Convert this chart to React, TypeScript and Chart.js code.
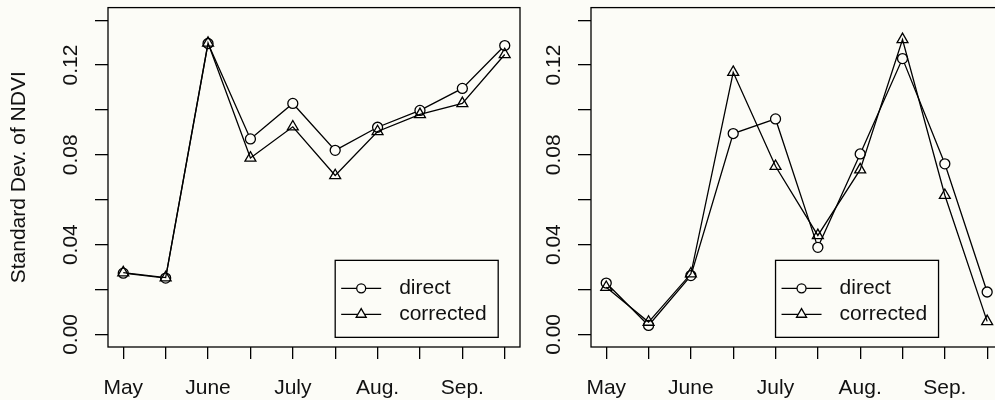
import React, { useEffect, useRef } from 'react';
import { Chart, registerables } from 'chart.js';

Chart.register(...registerables);

// ---- data ----
const xIndex = [1, 2, 3, 4, 5, 6, 7, 8, 9, 10];
const monthLabels = ['May', '', 'June', '', 'July', '', 'Aug.', '', 'Sep.', ''];
const yTicks = [0, 0.02, 0.04, 0.06, 0.08, 0.1, 0.12, 0.14];
const yTickLabels = ['0.00', '', '0.04', '', '0.08', '', '0.12', ''];
const seriesNames = ['direct', 'corrected'];
const yTitle = 'Standard Dev. of NDVI';

const leftDirect = [0.0273, 0.0251, 0.1296, 0.0871, 0.1029, 0.082, 0.0923, 0.0998, 0.1096, 0.1287];
const leftCorrected = [0.0275, 0.0253, 0.1298, 0.0786, 0.0925, 0.0708, 0.0904, 0.098, 0.1029, 0.1247];
const rightDirect = [0.0229, 0.004, 0.0262, 0.0895, 0.096, 0.0388, 0.0804, 0.1229, 0.076, 0.0189];
const rightCorrected = [0.021, 0.0055, 0.027, 0.1168, 0.0749, 0.0441, 0.0734, 0.1314, 0.062, 0.0058];

const FONT = '"Liberation Sans", Arial, Helvetica, sans-serif';
const FS = 21;
const LW = 1.3;
const BG = '#fcfcf7';
const TXT = '#111';

function drawMarker(ctx: CanvasRenderingContext2D, style: string, x: number, y: number, r: number, fill: string) {
  ctx.beginPath();
  if (style === 'circle') {
    ctx.arc(x, y, r, 0, Math.PI * 2);
  } else {
    let rad = 0;
    ctx.moveTo(x + Math.sin(rad) * r, y - Math.cos(rad) * r);
    rad += (2 * Math.PI) / 3;
    ctx.lineTo(x + Math.sin(rad) * r, y - Math.cos(rad) * r);
    rad += (2 * Math.PI) / 3;
    ctx.lineTo(x + Math.sin(rad) * r, y - Math.cos(rad) * r);
    ctx.closePath();
  }
  ctx.fillStyle = fill;
  ctx.fill();
  ctx.stroke();
}

const rStylePlugin = {
  id: 'rstyle',
  afterDraw(chart: any, _args: any, opts: any) {
    const { ctx, chartArea: a } = chart;
    const xs = chart.scales.x;
    const ys = chart.scales.y;
    ctx.save();
    ctx.strokeStyle = '#000';
    ctx.lineWidth = LW;
    ctx.strokeRect(a.left, a.top, a.right - a.left, a.bottom - a.top);

    // y tick labels (rotated, R style)
    ctx.fillStyle = TXT;
    ctx.font = `${FS}px ${FONT}`;
    ctx.textAlign = 'center';
    ctx.textBaseline = 'middle';
    yTicks.forEach((v, i) => {
      if (!yTickLabels[i]) return;
      const py = ys.getPixelForValue(v);
      ctx.save();
      ctx.translate(a.left - 37, py);
      ctx.rotate(-Math.PI / 2);
      ctx.fillText(yTickLabels[i], 0, 0);
      ctx.restore();
    });

    if (opts.title) {
      ctx.save();
      ctx.translate(19, (a.top + a.bottom) / 2);
      ctx.rotate(-Math.PI / 2);
      ctx.fillText(opts.title, 0, 0);
      ctx.restore();
    }

    // legend
    const lx = xs.getPixelForValue(opts.legendX);
    const ly = ys.getPixelForValue(opts.legendY);
    const w = 163;
    const h = 77;
    ctx.strokeRect(lx, ly, w, h);
    const ds = chart.data.datasets;
    [28, 54].forEach((dy, i) => {
      const yy = ly + dy;
      ctx.beginPath();
      ctx.moveTo(lx + 6, yy);
      ctx.lineTo(lx + 46, yy);
      ctx.stroke();
      drawMarker(ctx, ds[i].pointStyle, lx + 26, yy, ds[i].pointRadius - 0.5, BG);
      ctx.fillStyle = TXT;
      ctx.textAlign = 'left';
      ctx.textBaseline = 'middle';
      ctx.fillText(ds[i].label, lx + 64, yy);
    });
    ctx.restore();
  },
};

type PanelProps = {
  direct: number[];
  corrected: number[];
  left: number;
  width: number;
  axisWidth: number;
  rightPad: number;
  title?: string;
  legendX: number;
};

function Panel(p: PanelProps) {
  const ref = useRef<HTMLCanvasElement | null>(null);
  useEffect(() => {
    if (!ref.current) return;
    const mk = (vals: number[]) => vals.map((v, i) => ({ x: xIndex[i], y: v }));
    const chart = new Chart(ref.current, {
      type: 'line',
      data: {
        datasets: [
          {
            label: seriesNames[0],
            data: mk(p.direct),
            order: 2,
            borderColor: '#000',
            borderWidth: LW,
            pointStyle: 'circle',
            pointRadius: 5,
            pointBorderColor: '#000',
            pointBackgroundColor: BG,
            pointBorderWidth: LW,
            tension: 0,
          },
          {
            label: seriesNames[1],
            data: mk(p.corrected),
            order: 1,
            borderColor: '#000',
            borderWidth: LW,
            pointStyle: 'triangle',
            pointRadius: 6.3,
            pointBorderColor: '#000',
            pointBackgroundColor: 'rgba(0,0,0,0)',
            pointBorderWidth: LW,
            tension: 0,
          },
        ] as any,
      },
      options: {
        animation: false,
        responsive: false,
        events: [],
        layout: { padding: { left: 0, right: p.rightPad, top: 7, bottom: 0 } },
        plugins: {
          legend: { display: false },
          tooltip: { enabled: false },
          rstyle: { title: p.title, legendX: p.legendX, legendY: 0.033 },
        } as any,
        scales: {
          x: {
            type: 'linear',
            min: 0.64,
            max: 10.36,
            afterBuildTicks: (s: any) => {
              s.ticks = xIndex.map((v) => ({ value: v }));
            },
            afterFit: (s: any) => {
              s.height = 53;
            },
            grid: { drawOnChartArea: false, drawTicks: true, tickLength: 12, color: '#000', lineWidth: LW },
            border: { display: false },
            ticks: {
              autoSkip: false,
              maxRotation: 0,
              minRotation: 0,
              padding: 17,
              color: TXT,
              font: { size: FS, family: FONT },
              callback: (_v: any, i: number) => monthLabels[i],
            },
          },
          y: {
            type: 'linear',
            min: -0.0056,
            max: 0.1456,
            afterBuildTicks: (s: any) => {
              s.ticks = yTicks.map((v) => ({ value: v }));
            },
            afterFit: (s: any) => {
              s.width = p.axisWidth;
            },
            grid: { drawOnChartArea: false, drawTicks: true, tickLength: 13, color: '#000', lineWidth: LW },
            border: { display: false },
            ticks: { display: false },
          },
        },
      } as any,
      plugins: [rStylePlugin as any],
    });
    return () => chart.destroy();
  }, []);
  return (
    <canvas
      ref={ref}
      width={p.width}
      height={400}
      style={{ position: 'absolute', left: p.left, top: 0, width: p.width, height: 400 }}
    />
  );
}

export default function App() {
  return (
    <div
      style={{
        position: 'absolute',
        left: 0,
        top: 0,
        width: 995,
        height: 400,
        overflow: 'hidden',
        background: BG,
      }}
    >
      <Panel direct={leftDirect} corrected={leftCorrected} left={0} width={530} axisWidth={108} rightPad={10} title={yTitle} legendX={6} />
      <Panel direct={rightDirect} corrected={rightCorrected} left={530} width={480} axisWidth={61} rightPad={7} legendX={5} />
    </div>
  );
}
